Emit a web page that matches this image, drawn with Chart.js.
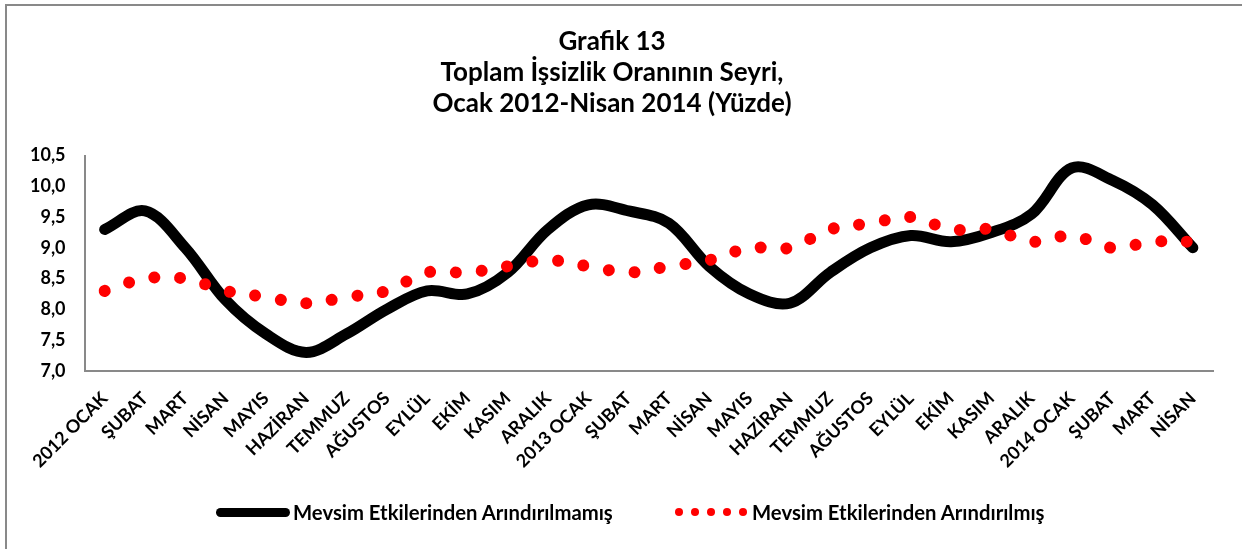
<!DOCTYPE html>
<html>
<head>
<meta charset="utf-8">
<script src="https://cdn.jsdelivr.net/npm/chart.js@4/dist/chart.umd.min.js"></script>
<style>
  body { margin: 0; background: #fff; }
  #wrap { position: relative; width: 1242px; height: 549px; overflow: hidden; }
  #frame { position: absolute; left: 5px; top: 4px; right: -10px; bottom: -10px;
           border-top: 2px solid #898989; border-left: 2px solid #898989; }
  #legend { position: absolute; left: 0; top: 500px; width: 1242px; height: 24px;
            font-family: Lato, sans-serif; font-weight: bold; font-size: 20.3px; color: #000; }
  .item { position: absolute; top: 0; height: 24px; display: flex; align-items: center; white-space: nowrap; }
  .bar { width: 74px; height: 9px; border-radius: 5px; background: #000; margin-right: 3px; }
  .dots { display: flex; width: 72px; justify-content: space-between; margin-right: 5px; }
  .dots span { width: 8px; height: 8px; border-radius: 50%; background: #ff0000; }
</style>
</head>
<body>
<div id="wrap">
  <canvas id="chart" width="1242" height="549"></canvas>
  <div id="frame"></div>
  <div id="legend"></div>
</div>
<script>
// aylar
const months = ['2012 OCAK', 'ŞUBAT', 'MART', 'NİSAN', 'MAYIS', 'HAZİRAN', 'TEMMUZ', 'AĞUSTOS', 'EYLÜL', 'EKİM', 'KASIM', 'ARALIK',
  '2013 OCAK', 'ŞUBAT', 'MART', 'NİSAN', 'MAYIS', 'HAZİRAN', 'TEMMUZ', 'AĞUSTOS', 'EYLÜL', 'EKİM', 'KASIM', 'ARALIK',
  '2014 OCAK', 'ŞUBAT', 'MART', 'NİSAN'];

// mevsim etkilerinden arındırılmamış
const rawRate = [9.3, 9.6, 9.0, 8.15, 7.6, 7.3, 7.6, 8.0, 8.3, 8.25, 8.6, 9.3,
  9.7, 9.6, 9.4, 8.7, 8.25, 8.1, 8.6, 9.0, 9.2, 9.1, 9.25, 9.55,
  10.3, 10.1, 9.7, 9.0];

// mevsim etkilerinden arındırılmış
const adjRate = [8.3, 8.5, 8.5, 8.3, 8.2, 8.1, 8.2, 8.3, 8.6, 8.6, 8.7, 8.8,
  8.7, 8.6, 8.7, 8.8, 9.0, 9.0, 9.3, 9.4, 9.5, 9.3, 9.3, 9.1,
  9.2, 9.0, 9.1, 9.1];

const yTickLabels = ['7,0', '7,5', '8,0', '8,5', '9,0', '9,5', '10,0', '10,5'];

const seriesNames = ['Mevsim Etkilerinden Arındırılmamış', 'Mevsim Etkilerinden Arındırılmış'];

Chart.defaults.font.family = 'Lato';
Chart.defaults.color = '#000';

const ctx = document.getElementById('chart').getContext('2d');
const chart = new Chart(ctx, {
  type: 'line',
  data: {
    labels: months,
    datasets: [{
      label: seriesNames[0],
      data: rawRate,
      borderColor: '#000',
      borderWidth: 11,
      borderCapStyle: 'round',
      borderJoinStyle: 'round',
      tension: 0.35,
      pointRadius: 0,
      order: 2
    }, {
      label: seriesNames[1],
      data: adjRate,
      borderColor: '#ff0000',
      borderWidth: 12,
      borderCapStyle: 'round',
      borderDash: [0.01, 25.8],
      tension: 0.35,
      pointRadius: 0,
      order: 1
    }]
  },
  options: {
    responsive: false,
    animation: false,
    layout: { padding: { left: 11, right: 29, bottom: 60 } },
    plugins: {
      legend: { display: false },
      tooltip: { enabled: false },
      title: {
        display: true,
        text: ['Grafik 13', 'Toplam İşsizlik Oranının Seyri,', 'Ocak 2012-Nisan 2014 (Yüzde)'],
        font: { size: 26, weight: 'bold' },
        lineHeight: 1.23,
        padding: { top: 26, bottom: 36 }
      }
    },
    scales: {
      x: {
        offset: true,
        grid: { display: false, drawTicks: false },
        border: { color: '#898989', width: 2 },
        ticks: {
          autoSkip: false,
          minRotation: 45,
          maxRotation: 45,
          padding: 17,
          font: { size: 18, weight: 'bold' }
        }
      },
      y: {
        min: 7,
        max: 10.5,
        grid: { display: false, drawTicks: false },
        border: { color: '#898989', width: 2 },
        ticks: {
          stepSize: 0.5,
          padding: 19,
          font: { size: 18, weight: 'bold' },
          callback: (value) => yTickLabels[Math.round((value - 7) / 0.5)]
        }
      }
    }
  }
});

// legend (html)
const legend = document.getElementById('legend');
legend.innerHTML =
  '<div class="item" style="left:216px"><div class="bar"></div>' + seriesNames[0] + '</div>' +
  '<div class="item" style="left:675px"><div class="dots"><span></span><span></span><span></span><span></span><span></span></div>' + seriesNames[1] + '</div>';
</script>
</body>
</html>
